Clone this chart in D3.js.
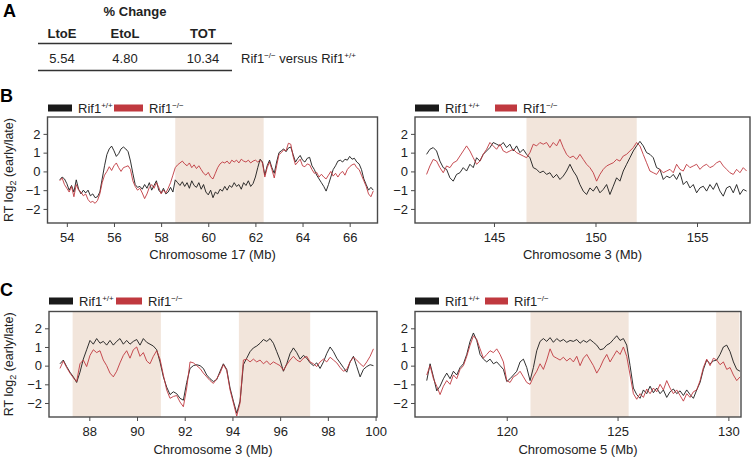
<!DOCTYPE html>
<html><head><meta charset="utf-8">
<script src="https://cdn.jsdelivr.net/npm/d3@7"></script>
<style>
body{margin:0;background:#fff;}
svg{display:block;font-family:"Liberation Sans",Arial,Helvetica,sans-serif;}
</style>
</head><body>
<svg id="c" width="756" height="462"></svg>
<script>
// ---------------- DATA ----------------
const tableHeaders = ["LtoE", "EtoL", "TOT"];
const tableValues = ["5.54", "4.80", "10.34"];
const yTicks = [-2, -1, 0, 1, 2];

// Panel B left: chromosome 17
const b1Start = 53.7, b1Step = 0.1;
const b1WT = [-0.45,-0.3,-0.4,-0.65,-1.0,-0.75,-1.1,-0.45,-0.95,-1.2,
 -1.0,-1.15,-1.0,-1.3,-1.2,-1.4,-1.35,-1.1,-0.4,0.3,
 0.9,1.2,1.35,1.1,0.8,0.95,1.2,1.3,1.2,1.05,
 0.55,-0.1,-0.7,-0.85,-0.8,-0.95,-0.7,-0.9,-0.6,-1.0,
 -0.75,-0.5,-1.0,-1.15,-0.9,-1.2,-1.1,-0.85,-1.1,-0.45,
 -0.6,-0.75,-0.55,-0.8,-0.6,-0.9,-0.5,-0.75,-0.85,-0.6,
 -0.95,-0.7,-1.1,-1.25,-1.0,-1.4,-1.1,-1.2,-0.95,-1.05,
 -0.8,-1.0,-0.75,-0.85,-0.6,-0.8,-0.7,-0.95,-0.6,-0.75,
 -0.5,-0.8,-0.65,-0.3,0.2,0.65,0.5,-0.2,0.3,0.6,
 0.2,-0.1,0.5,1.0,1.1,1.2,1.05,1.25,1.3,0.9,
 0.5,0.7,0.85,0.6,0.5,0.7,0.75,0.3,0.1,-0.2,
 -0.4,-0.6,-0.8,-1.05,-0.7,-0.3,0.1,0.3,0.55,0.6,
 0.5,0.65,0.6,0.8,0.65,0.7,0.5,0.4,0.1,-0.4,
 -0.7,-1.0,-0.85,-1.0];
const b1KO = [-0.5,-0.35,-0.7,-0.9,-1.1,-0.8,-1.35,-0.7,-1.0,-1.1,
 -1.3,-1.2,-1.5,-1.65,-1.6,-1.7,-1.55,-1.2,-0.6,-0.2,
 0.0,0.25,0.05,0.3,0.45,0.2,0.0,0.2,0.25,0.3,
 0.1,-0.5,-0.8,-1.0,-0.9,-1.15,-1.45,-1.2,-0.85,-0.7,
 -0.9,-0.6,-0.85,-1.2,-1.0,-1.15,-0.9,-0.6,-0.2,0.2,
 0.35,0.45,0.55,0.4,0.3,0.45,0.2,0.35,0.15,0.3,
 0.1,-0.1,-0.2,-0.05,-0.3,-0.4,-0.1,0.2,0.4,0.5,
 0.45,0.55,0.4,0.6,0.5,0.6,0.45,0.65,0.55,0.5,
 0.6,0.45,0.55,0.6,0.5,0.6,0.45,-0.3,0.2,0.5,
 0.1,-0.35,0.3,0.9,1.0,1.15,1.1,1.5,1.45,0.8,
 0.35,0.5,0.65,0.3,0.25,0.4,0.35,0.1,-0.1,-0.05,
 -0.3,-0.15,-0.3,-0.4,-0.2,0.0,-0.25,-0.1,-0.3,-0.1,
 0.0,-0.2,0.1,0.25,0.35,0.4,0.2,0.1,-0.2,-0.5,
 -0.8,-1.2,-1.35,-1.05];
const b1Shade = [[58.6, 62.35]];
const b1XTicks = [54, 56, 58, 60, 62, 64, 66];

// Panel B right: chromosome 3
const b2Start = 141.68, b2Step = 0.1642;
const b2WT = [0.91,1.18,1.27,1.09,0.55,0.2,0.11,-0.34,-0.52,-0.16,
 -0.07,0.2,0.02,0.38,0.2,0.73,0.55,0.91,1.09,1.27,
 1.54,1.45,1.36,1.54,1.27,1.45,1.09,1.36,1.0,1.18,
 0.91,0.73,0.2,0.11,-0.07,0.02,-0.16,-0.07,-0.34,-0.16,
 -0.43,-0.25,0.02,0.38,0.02,-0.25,-0.7,-1.05,-1.23,-0.88,
 -1.05,-0.79,-1.14,-0.96,-0.7,-1.23,-0.79,-0.34,-0.52,0.02,
 0.38,0.73,1.09,1.36,1.6,1.36,1.0,0.91,0.73,0.2,
 0.11,-0.43,-0.25,-0.34,-0.16,-0.43,-0.07,-0.7,-0.52,-0.88,
 -0.7,-1.14,-0.88,-0.79,-1.05,-0.7,-0.96,-0.61,-1.05,-1.32,
 -0.88,-0.79,-1.14,-0.7,-1.23,-0.96,-1.05];
const b2KO = [-0.16,0.29,0.64,0.55,0.2,-0.07,0.29,0.2,0.46,0.55,
 0.82,1.09,1.36,1.09,0.73,0.38,0.55,0.91,1.18,1.54,
 1.36,1.18,1.45,1.09,1.0,1.09,1.18,1.0,0.91,0.82,
 0.73,1.0,1.45,1.36,1.54,1.45,1.54,1.27,1.54,1.36,
 1.71,1.27,0.91,0.73,0.82,0.64,0.91,0.64,0.38,0.2,
 -0.07,-0.52,-0.16,0.11,0.29,0.38,0.46,0.64,0.55,0.82,
 0.91,1.09,1.27,1.54,1.36,0.9,0.46,0.02,-0.07,-0.16,
 0.11,-0.07,0.02,0.11,-0.07,0.38,0.11,0.02,0.38,0.2,
 0.29,0.38,0.11,0.29,0.38,0.2,0.29,0.46,0.55,0.29,
 0.11,-0.07,-0.16,0.11,-0.07,0.2,0.02];
const b2Shade = [[146.6, 152.03]];
const b2XTicks = [145, 150, 155];

// Panel C left: chromosome 3
const c1Start = 86.77, c1Step = 0.1398;
const c1WT = [0.1,0.3,-0.05,-0.35,-0.6,-0.9,-0.35,0.35,0.85,1.35,
 1.15,1.45,1.2,1.3,1.1,1.35,1.1,1.3,1.45,1.15,
 1.35,1.15,1.3,1.4,1.1,1.45,1.25,1.15,1.05,0.85,
 0.2,-0.6,-1.15,-1.55,-1.4,-1.5,-1.75,-1.85,-0.9,-0.15,
 0.0,0.05,0.0,-0.15,-0.5,-0.7,-0.85,-0.75,-0.3,0.1,
 -0.2,-1.2,-1.9,-2.55,-1.9,0.05,0.4,0.75,0.95,1.05,
 1.2,1.4,1.3,1.45,1.2,0.75,0.3,-0.3,0.1,0.65,
 0.95,0.7,0.35,0.55,0.4,0.15,0.0,0.15,-0.15,0.2,
 0.65,1.0,0.75,0.4,0.15,-0.1,-0.35,0.2,0.5,-0.05,
 -0.6,-0.2,-0.05,0.05,0.0];
const c1KO = [-0.15,0.25,-0.1,-0.4,-0.65,-0.85,0.1,0.3,-0.05,0.55,
 0.85,0.7,0.8,0.3,0.0,-0.4,-0.6,-0.3,0.15,0.55,
 0.8,0.4,0.85,1.0,0.5,0.7,0.25,0.1,0.5,0.8,
 0.35,-0.5,-1.3,-1.75,-1.65,-1.6,-1.95,-2.2,-1.2,0.2,
 0.15,0.0,-0.15,-0.4,-0.6,-0.8,-0.95,-0.7,-0.4,0.05,
 -0.25,-1.3,-2.0,-2.7,-2.0,0.3,0.35,0.2,0.35,0.2,
 0.3,0.1,0.25,0.05,0.2,0.1,0.0,-0.25,0.05,0.3,
 0.5,0.3,0.2,0.4,0.5,0.2,0.1,-0.05,0.2,0.35,
 0.2,0.45,0.3,0.15,-0.1,-0.3,-0.2,0.2,0.45,0.3,
 0.1,-0.05,0.2,0.5,0.9];
const c1Shade = [[87.3, 91.0], [94.27, 97.26]];
const c1XTicks = [88, 90, 92, 94, 96, 98, 100];

// Panel C right: chromosome 5
const c2Start = 116.39, c2Step = 0.1504;
const c2WT = [-0.8,0.1,-0.6,-1.35,-1.1,-0.7,-0.4,-0.7,-0.3,-0.5,
 -0.1,0.1,0.6,1.3,1.75,1.35,0.6,0.35,0.2,0.35,
 0.1,0.2,0.0,-0.2,-0.85,-0.7,-0.5,-0.3,0.2,0.35,
 -0.1,-0.8,-0.1,0.8,1.3,1.45,1.3,1.5,1.25,1.45,
 1.3,1.4,1.25,1.35,1.3,1.4,1.2,1.35,1.25,1.4,
 1.25,1.1,0.85,0.9,1.1,1.2,1.4,1.6,1.35,1.45,
 1.1,0.0,-1.2,-1.55,-1.75,-1.3,-1.5,-1.1,-1.45,-1.2,
 -1.5,-1.3,-1.7,-1.4,-1.25,-1.5,-1.35,-1.6,-1.3,-1.55,
 -1.75,-1.3,-0.9,-0.2,0.3,0.1,0.25,0.3,0.6,1.0,
 1.1,0.75,0.2,-0.2,-0.3];
const c2KO = [-0.5,0.0,-0.7,-1.1,-1.55,-1.1,-0.8,-1.0,-0.5,-0.7,
 -0.2,0.0,0.5,1.1,1.6,1.4,0.9,0.4,0.6,0.8,
 0.7,0.9,0.6,0.2,-0.8,-0.9,-0.6,-0.5,-0.3,-0.6,
 -0.9,-1.0,-0.6,-0.3,0.1,-0.2,0.3,0.9,0.5,0.4,
 0.3,0.45,0.25,0.4,0.2,0.5,0.0,0.4,0.6,0.3,
 0.0,-0.4,-0.1,0.3,0.6,0.2,0.5,0.8,0.6,1.0,
 0.5,-0.5,-1.5,-1.8,-1.5,-1.7,-1.25,-1.5,-1.2,-1.4,
 -1.0,-1.3,-0.8,-1.2,-1.5,-1.3,-1.6,-1.9,-1.5,-1.7,
 -1.4,-1.3,-0.8,-0.1,0.35,0.0,0.4,0.3,0.05,0.2,
 -0.2,-0.1,-0.5,-0.8,-0.6];
const c2Shade = [[121.07, 125.5], [129.45, 130.5]];
const c2XTicks = [120, 125, 130];

// ---------------- DRAWING ----------------
const svg = d3.select("#c");
const FONT = 13;
const colWT = "#1a1a1a", colKO = "#c0393f";
const shadeCol = "#f2e5db";
const yDomain = [-2.75, 2.9];

function sup(text, s, size) {
  text.append("tspan").attr("dy", -5).attr("font-size", size || 8).text(s);
}

// Panel letters
svg.append("text").attr("x", 3).attr("y", 17).attr("font-size", 18).attr("font-weight", "bold").text("A");
svg.append("text").attr("x", 0).attr("y", 102).attr("font-size", 18).attr("font-weight", "bold").text("B");
svg.append("text").attr("x", 0).attr("y", 296).attr("font-size", 18).attr("font-weight", "bold").text("C");

// Table (panel A)
svg.append("text").attr("x", 135).attr("y", 16).attr("text-anchor", "middle")
  .attr("font-size", FONT).attr("font-weight", "bold").attr("fill", "#222").text("% Change");
const colX = [62, 125, 203];
svg.selectAll("text.hdr").data(tableHeaders).join("text").attr("class", "hdr")
  .attr("x", (d, i) => colX[i]).attr("y", 38).attr("text-anchor", "middle")
  .attr("font-size", FONT).attr("font-weight", "bold").attr("fill", "#222").text(d => d);
svg.selectAll("text.val").data(tableValues).join("text").attr("class", "val")
  .attr("x", (d, i) => colX[i]).attr("y", 63).attr("text-anchor", "middle")
  .attr("font-size", FONT).attr("fill", "#222").text(d => d);
[43.5, 70.5].forEach(yy => svg.append("line").attr("x1", 38).attr("x2", 232)
  .attr("y1", yy).attr("y2", yy).attr("stroke", "#333").attr("stroke-width", 1.6));
const cmp = svg.append("text").attr("x", 241).attr("y", 63).attr("font-size", FONT).attr("fill", "#222");
cmp.append("tspan").text("Rif1");
sup(cmp, "\u2212/\u2212");
cmp.append("tspan").attr("dy", 5).text(" versus Rif1");
sup(cmp, "+/+");

let clipId = 0;
function panel(cfg) {
  const x = d3.scaleLinear().domain(cfg.xDomain).range([cfg.left, cfg.right]);
  const y = d3.scaleLinear().domain(yDomain).range([cfg.bottom, cfg.top]);
  const g = svg.append("g");
  const id = "clip" + (clipId++);
  g.append("clipPath").attr("id", id).append("rect")
    .attr("x", cfg.left).attr("y", cfg.top).attr("width", cfg.right - cfg.left).attr("height", cfg.bottom - cfg.top);

  g.selectAll("rect.shade").data(cfg.shade).join("rect").attr("class", "shade")
    .attr("x", d => x(d[0])).attr("y", cfg.top)
    .attr("width", d => x(d[1]) - x(d[0])).attr("height", cfg.bottom - cfg.top)
    .attr("fill", shadeCol);

  const line = d3.line().x((d, i) => x(cfg.start + i * cfg.step)).y(d => y(d));
  const lg = g.append("g").attr("clip-path", `url(#${id})`);
  lg.append("path").attr("d", line(cfg.wt)).attr("fill", "none").attr("stroke", colWT).attr("stroke-width", 0.9).attr("stroke-linejoin", "round");
  lg.append("path").attr("d", line(cfg.ko)).attr("fill", "none").attr("stroke", colKO).attr("stroke-width", 0.9).attr("stroke-linejoin", "round");

  g.append("rect").attr("x", cfg.left).attr("y", cfg.top)
    .attr("width", cfg.right - cfg.left).attr("height", cfg.bottom - cfg.top)
    .attr("fill", "none").attr("stroke", "#4a4a4a").attr("stroke-width", 1.4);

  const ax = g.append("g").attr("transform", `translate(0,${cfg.bottom})`)
    .call(d3.axisBottom(x).tickValues(cfg.xticks).tickSize(4).tickPadding(6).tickFormat(d3.format("d")));
  ax.select(".domain").remove();
  ax.selectAll("line").attr("stroke", "#4a4a4a");
  ax.selectAll("text").attr("font-size", FONT).attr("fill", "#222").attr("font-family", null);

  const ay = g.append("g").attr("transform", `translate(${cfg.left},0)`)
    .call(d3.axisLeft(y).tickValues(yTicks).tickSize(4).tickPadding(3).tickFormat(d3.format("d")));
  ay.select(".domain").remove();
  ay.selectAll("line").attr("stroke", "#4a4a4a");
  ay.selectAll("text").attr("font-size", FONT).attr("fill", "#222").attr("font-family", null);

  g.append("text").attr("x", (cfg.left + cfg.right) / 2).attr("y", cfg.titleY)
    .attr("text-anchor", "middle").attr("font-size", FONT).attr("fill", "#222").text(cfg.title);

  // legend
  const L = cfg.legend;
  g.append("rect").attr("x", L.x1).attr("y", L.y - 3.5).attr("width", 24).attr("height", 7).attr("fill", colWT);
  const t1 = g.append("text").attr("x", L.x1 + 30).attr("y", L.y + 4.5).attr("font-size", FONT).attr("fill", "#222");
  t1.append("tspan").text("Rif1"); sup(t1, "+/+");
  g.append("rect").attr("x", L.x2).attr("y", L.y - 3.5).attr("width", L.w2).attr("height", 7).attr("fill", colKO);
  const t2 = g.append("text").attr("x", L.x2 + L.w2 + 6).attr("y", L.y + 4.5).attr("font-size", FONT).attr("fill", "#222");
  t2.append("tspan").text("Rif1"); sup(t2, "\u2212/\u2212");

  if (cfg.yTitle) {
    const cy = (cfg.top + cfg.bottom) / 2;
    const yt = g.append("text").attr("transform", `translate(${cfg.yTitleX},${cy}) rotate(-90)`)
      .attr("text-anchor", "middle").attr("font-size", 12.5).attr("fill", "#222");
    yt.append("tspan").text("RT log");
    yt.append("tspan").attr("dy", 3).attr("font-size", 9).text("2");
    yt.append("tspan").attr("dy", -3).text(" (early/late)");
  }
}

panel({left: 47.5, right: 377.5, top: 117, bottom: 223, xDomain: [53.18, 67.18],
  start: b1Start, step: b1Step, wt: b1WT, ko: b1KO, shade: b1Shade, xticks: b1XTicks,
  title: "Chromosome 17 (Mb)", titleY: 259, yTitle: true, yTitleX: 13,
  legend: {x1: 48, y: 108, x2: 114, w2: 29}});
panel({left: 415, right: 750, top: 117, bottom: 223, xDomain: [141.11, 157.61],
  start: b2Start, step: b2Step, wt: b2WT, ko: b2KO, shade: b2Shade, xticks: b2XTicks,
  title: "Chromosome 3 (Mb)", titleY: 259, yTitle: false,
  legend: {x1: 415, y: 108, x2: 495, w2: 22}});
panel({left: 49, right: 377, top: 311.5, bottom: 417, xDomain: [86.31, 100.06],
  start: c1Start, step: c1Step, wt: c1WT, ko: c1KO, shade: c1Shade, xticks: c1XTicks,
  title: "Chromosome 3 (Mb)", titleY: 454, yTitle: true, yTitleX: 13,
  legend: {x1: 49, y: 301, x2: 116, w2: 26}});
panel({left: 415, right: 741, top: 311.5, bottom: 417, xDomain: [115.86, 130.57],
  start: c2Start, step: c2Step, wt: c2WT, ko: c2KO, shade: c2Shade, xticks: c2XTicks,
  title: "Chromosome 5 (Mb)", titleY: 454, yTitle: false,
  legend: {x1: 415, y: 301, x2: 485, w2: 23}});
</script>
</body></html>
